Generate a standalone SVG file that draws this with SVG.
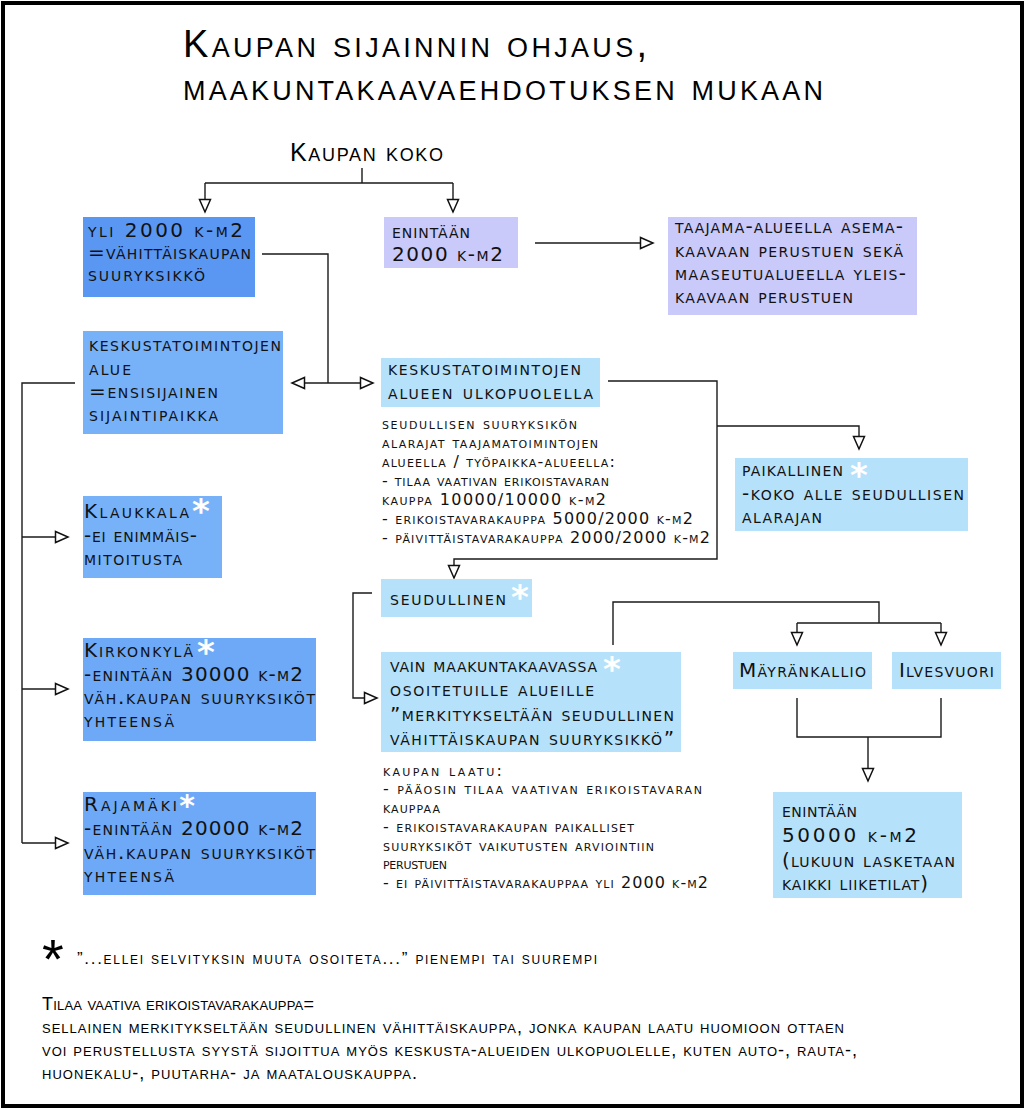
<svg xmlns="http://www.w3.org/2000/svg" width="1026" height="1111" viewBox="0 0 1026 1111">
<defs>
<style>
.bx{font-family:"DejaVu Sans",sans-serif;font-size:20px;font-variant:small-caps;fill:#111}
.sm{font-family:"DejaVu Sans",sans-serif;font-size:16px;font-variant:small-caps;fill:#111}
.ti{font-family:"Liberation Sans",sans-serif;font-size:38px;font-variant:small-caps;fill:#000}
.ft{font-family:"Liberation Sans",sans-serif;font-size:18px;font-variant:small-caps;fill:#000}
.ast{font-family:"DejaVu Sans",sans-serif;font-weight:bold;font-size:34px;fill:#fff;text-anchor:middle}
.c{fill:none;stroke:#1a1a1a;stroke-width:1.4}
.a{marker-end:url(#arr)}
.dk{fill:#5a97f3}
.md{fill:#77b2f9}
.md2{fill:#6da9f6}
.lt{fill:#b6e1fb}
.lv{fill:#c9c9fa}
</style>
<marker id="arr" markerUnits="userSpaceOnUse" markerWidth="16" markerHeight="14" refX="14" refY="7" orient="auto">
<path d="M1.5,1.5 L14,7 L1.5,12.5 Z" fill="#fff" stroke="#111" stroke-width="1.5"/>
</marker>
</defs>
<rect x="0" y="0" width="1026" height="1111" fill="#fff"/>
<rect x="3" y="3" width="1019" height="1103" fill="none" stroke="#000" stroke-width="4"/>

<g id="title">
<text class="ti" x="183" y="57" textLength="464">Kaupan sijainnin ohjaus,</text>
<text class="ti" x="183" y="100" textLength="640">maakuntakaavaehdotuksen mukaan</text>
</g>

<g id="connectors">
<path class="c" d="M362,168 V183 M205,183 H453"/>
<path class="c a" d="M205,183 V212"/>
<path class="c a" d="M453,183 V212"/>
<path class="c a" d="M535,243 H653"/>
<path class="c" d="M262,254 H328 V383"/>
<path class="c a" d="M328,383 H292"/>
<path class="c a" d="M328,383 H373"/>
<path class="c a" d="M608,381 H717 V559 H454 V578"/>
<path class="c a" d="M717,426 H859 V449"/>
<path class="c a" d="M372,593 H353 V698 H377"/>
<path class="c" d="M613,645 V602 H879 V623 M797,623 H941"/>
<path class="c a" d="M797,623 V645"/>
<path class="c a" d="M941,623 V645"/>
<path class="c" d="M797,698 V737 H941 V698"/>
<path class="c a" d="M868,737 V781"/>
<path class="c" d="M75,383 H22 V843"/>
<path class="c a" d="M22,537 H68"/>
<path class="c a" d="M22,689 H68"/>
<path class="c a" d="M22,843 H68"/>
</g>

<g id="kaupan-koko">
<text class="ft" style="font-size:25px" x="290" y="161" textLength="153">Kaupan koko</text>
</g>

<g id="yli2000">
<rect class="dk" x="83" y="217" width="172" height="80"/>
<text class="bx" x="88" y="237" textLength="155">yli 2000 k-m2</text>
<text class="bx" x="88" y="259" textLength="163">=vähittäiskaupan</text>
<text class="bx" x="88" y="281" textLength="117">suuryksikkö</text>
</g>

<g id="enintaan2000">
<rect class="lv" x="384" y="217" width="134" height="51"/>
<text class="bx" x="392" y="238" textLength="78">enintään</text>
<text class="bx" x="392" y="261" textLength="111">2000 k-m2</text>
</g>

<g id="taajama">
<rect class="lv" x="668" y="217" width="249" height="98"/>
<text class="bx" x="675" y="233" textLength="228">taajama-alueella asema-</text>
<text class="bx" x="675" y="257" textLength="228">kaavaan perustuen sekä</text>
<text class="bx" x="675" y="280" textLength="231">maaseutualueella yleis-</text>
<text class="bx" x="675" y="303" textLength="178">kaavaan perustuen</text>
</g>

<g id="keskusta">
<rect class="md" x="83" y="331" width="200" height="103"/>
<text class="bx" x="89" y="351" textLength="192">keskustatoimintojen</text>
<text class="bx" x="89" y="375" textLength="42">alue</text>
<text class="bx" x="89" y="398" textLength="129">=ensisijainen</text>
<text class="bx" x="89" y="421" textLength="129">sijaintipaikka</text>
</g>

<g id="ulkopuolella">
<rect class="lt" x="381" y="358" width="219" height="49"/>
<text class="bx" x="388" y="375" textLength="193">keskustatoimintojen</text>
<text class="bx" x="388" y="399" textLength="205">alueen ulkopuolella</text>
</g>

<g id="alarajat-text">
<text class="sm" x="382" y="429" textLength="195">seudullisen suuryksikön</text>
<text class="sm" x="382" y="448" textLength="216">alarajat taajamatoimintojen</text>
<text class="sm" x="382" y="467" textLength="233">alueella / työpaikka-alueella:</text>
<text class="sm" x="382" y="486" textLength="227">- tilaa vaativan erikoistavaran</text>
<text class="sm" x="382" y="505" textLength="224">kauppa 10000/10000 k-m2</text>
<text class="sm" x="382" y="524" textLength="311">- erikoistavarakauppa 5000/2000 k-m2</text>
<text class="sm" x="382" y="543" textLength="328">- päivittäistavarakauppa 2000/2000 k-m2</text>
</g>

<g id="paikallinen">
<rect class="lt" x="735" y="458" width="233" height="73"/>
<text class="bx" x="742" y="476" textLength="101">paikallinen</text>
<text class="ast" x="859" y="487">*</text>
<text class="bx" x="742" y="500" textLength="222">-koko alle seudullisen</text>
<text class="bx" x="742" y="523" textLength="80">alarajan</text>
</g>

<g id="seudullinen">
<rect class="lt" x="381" y="579" width="151" height="38"/>
<text class="bx" x="390" y="605" textLength="116">seudullinen</text>
<text class="ast" x="520" y="609">*</text>
</g>

<g id="maakuntakaavassa">
<rect class="lt" x="381" y="652" width="300" height="100"/>
<text class="bx" x="390" y="672" textLength="207">vain maakuntakaavassa</text>
<text class="ast" x="612" y="681">*</text>
<text class="bx" x="390" y="696" textLength="204">osoitetuille alueille</text>
<text class="bx" x="390" y="721" textLength="284">”merkitykseltään seudullinen</text>
<text class="bx" x="390" y="745" textLength="284">vähittäiskaupan suuryksikkö”</text>
</g>

<g id="laatu-text">
<text class="sm" x="383" y="776" textLength="119">kaupan laatu:</text>
<text class="sm" x="383" y="794" textLength="319">- pääosin tilaa vaativan erikoistavaran</text>
<text class="sm" x="383" y="813" textLength="57">kauppaa</text>
<text class="sm" x="383" y="832" textLength="251">- erikoistavarakaupan paikalliset</text>
<text class="sm" x="383" y="851" textLength="271">suuryksiköt vaikutusten arviointiin</text>
<text class="sm" x="383" y="869" textLength="64">perustuen</text>
<text class="sm" x="383" y="888" textLength="325">- ei päivittäistavarakauppaa yli 2000 k-m2</text>
</g>

<g id="mayrankallio">
<rect class="lt" x="733" y="652" width="139" height="37"/>
<text class="bx" x="739" y="677" textLength="127">Mäyränkallio</text>
</g>

<g id="ilvesvuori">
<rect class="lt" x="892" y="652" width="109" height="37"/>
<text class="bx" x="899" y="677" textLength="95">Ilvesvuori</text>
</g>

<g id="enintaan50000">
<rect class="lt" x="773" y="792" width="189" height="106"/>
<text class="bx" x="782" y="817" textLength="75">enintään</text>
<text class="bx" x="782" y="842" textLength="135">50000 k-m2</text>
<text class="bx" x="782" y="867" textLength="173">(lukuun lasketaan</text>
<text class="bx" x="782" y="890" textLength="146">kaikki liiketilat)</text>
</g>

<g id="klaukkala">
<rect class="md" x="83" y="496" width="139" height="82"/>
<text class="bx" x="84" y="518" textLength="105">Klaukkala</text>
<text class="ast" x="201" y="523">*</text>
<text class="bx" x="84" y="542" textLength="113">-ei enimmäis-</text>
<text class="bx" x="84" y="565" textLength="98">mitoitusta</text>
</g>

<g id="kirkonkyla">
<rect class="md2" x="83" y="638" width="233" height="103"/>
<text class="bx" x="84" y="657" textLength="109">Kirkonkylä</text>
<text class="ast" x="206" y="664">*</text>
<text class="bx" x="84" y="681" textLength="219">-enintään 30000 k-m2</text>
<text class="bx" x="84" y="704" textLength="231">väh.kaupan suuryksiköt</text>
<text class="bx" x="84" y="727" textLength="90">yhteensä</text>
</g>

<g id="rajamaki">
<rect class="md2" x="83" y="792" width="233" height="103"/>
<text class="bx" x="84" y="811" textLength="93">Rajamäki</text>
<text class="ast" style="font-size:30px" x="187" y="816">*</text>
<text class="bx" x="84" y="835" textLength="219">-enintään 20000 k-m2</text>
<text class="bx" x="84" y="859" textLength="231">väh.kaupan suuryksiköt</text>
<text class="bx" x="84" y="882" textLength="90">yhteensä</text>
</g>

<g id="footnote">
<text x="53" y="978" style="font-family:'Liberation Sans',sans-serif;font-size:56px;text-anchor:middle;fill:#000">*</text>
<text class="ft" style="font-size:17px" x="77" y="964" textLength="520">”...ellei selvityksin muuta osoiteta...” pienempi tai suurempi</text>
</g>

<g id="definition">
<text class="ft" x="42" y="1010" textLength="272">Tilaa vaativa erikoistavarakauppa=</text>
<text class="ft" x="42" y="1033" textLength="802">sellainen merkitykseltään seudullinen vähittäiskauppa, jonka kaupan laatu huomioon ottaen</text>
<text class="ft" x="42" y="1056" textLength="815">voi perustellusta syystä sijoittua myös keskusta-alueiden ulkopuolelle, kuten auto-, rauta-,</text>
<text class="ft" x="42" y="1079" textLength="375">huonekalu-, puutarha- ja maatalouskauppa.</text>
</g>
</svg>
